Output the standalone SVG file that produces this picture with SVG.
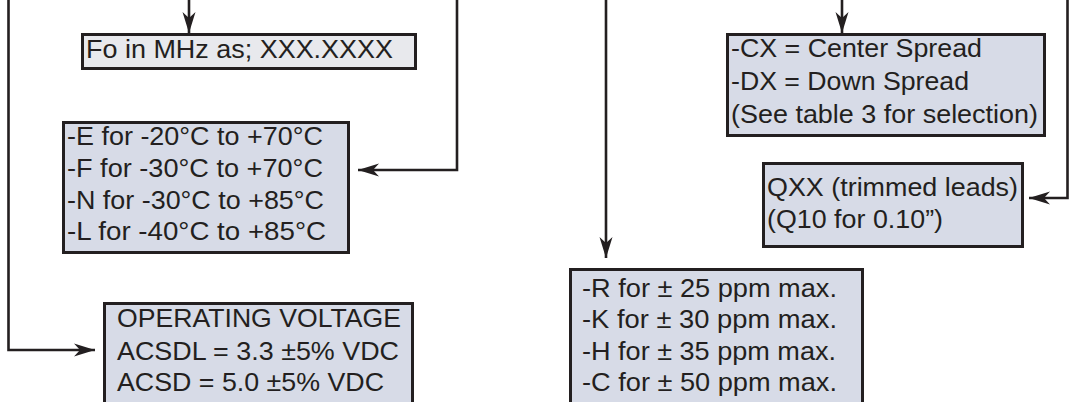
<svg xmlns="http://www.w3.org/2000/svg" width="1070" height="402" viewBox="0 0 1070 402">
<defs>
<marker id="ah" markerUnits="userSpaceOnUse" markerWidth="24" markerHeight="16" viewBox="-22 -8 24 16" refX="0" refY="0" orient="auto">
<path d="M0,0 L-21,-6.5 L-15,0 L-21,6.5 Z" fill="#231f20"/>
</marker>
</defs>
<style>
.box{stroke:#231f20;stroke-width:3}
.blue{fill:#d7dbe7}
.gray{fill:#e8e9ed}
.t{font-family:"Liberation Sans",Arial,sans-serif;font-size:25px;fill:#231f20;lengthAdjust:spacingAndGlyphs}
.c{fill:none;stroke:#231f20;stroke-width:2.6}
</style>
<rect width="1070" height="402" fill="#ffffff"/>
<g id="connectors">
<path class="c" d="M189,0 V33" marker-end="url(#ah)"/>
<path class="c" d="M457,0 V170 H358" marker-end="url(#ah)"/>
<path class="c" d="M8.5,0 V350 H95" marker-end="url(#ah)"/>
<path class="c" d="M842,0 V33" marker-end="url(#ah)"/>
<path class="c" d="M1067.5,0 V198 H1029" marker-end="url(#ah)"/>
<path class="c" d="M606,0 V258" marker-end="url(#ah)"/>
</g>
<g id="freq">
<rect class="box gray" x="82.5" y="34.5" width="333" height="34"/>
<text class="t" x="86" y="58" textLength="307" lengthAdjust="spacingAndGlyphs">Fo in MHz as; XXX.XXXX</text>
</g>
<g id="temp">
<rect class="box blue" x="63.5" y="122.5" width="285" height="130"/>
<text class="t" x="67" y="145" textLength="256" lengthAdjust="spacingAndGlyphs">-E for -20°C to +70°C</text>
<text class="t" x="67" y="177" textLength="256" lengthAdjust="spacingAndGlyphs">-F for -30°C to +70°C</text>
<text class="t" x="67" y="209" textLength="257" lengthAdjust="spacingAndGlyphs">-N for -30°C to +85°C</text>
<text class="t" x="67" y="240" textLength="259" lengthAdjust="spacingAndGlyphs">-L for -40°C to +85°C</text>
</g>
<g id="voltage">
<rect class="box blue" x="104.5" y="303.5" width="308" height="110"/>
<text class="t" x="117" y="327" textLength="284" lengthAdjust="spacingAndGlyphs">OPERATING VOLTAGE</text>
<text class="t" x="117" y="360" textLength="282" lengthAdjust="spacingAndGlyphs">ACSDL = 3.3 ±5% VDC</text>
<text class="t" x="117" y="391" textLength="267" lengthAdjust="spacingAndGlyphs">ACSD = 5.0 ±5% VDC</text>
</g>
<g id="spread">
<rect class="box blue" x="727.5" y="34.5" width="317" height="101"/>
<text class="t" x="731" y="57" textLength="251" lengthAdjust="spacingAndGlyphs">-CX = Center Spread</text>
<text class="t" x="731" y="90" textLength="238" lengthAdjust="spacingAndGlyphs">-DX = Down Spread</text>
<text class="t" x="731" y="123" textLength="307" lengthAdjust="spacingAndGlyphs">(See table 3 for selection)</text>
</g>
<g id="leads">
<rect class="box blue" x="763.5" y="163.5" width="259" height="83"/>
<text class="t" x="767" y="196" textLength="251" lengthAdjust="spacingAndGlyphs">QXX (trimmed leads)</text>
<text class="t" x="767" y="228" textLength="176" lengthAdjust="spacingAndGlyphs">(Q10 for 0.10”)</text>
</g>
<g id="tolerance">
<rect class="box blue" x="570.5" y="269.5" width="292" height="140"/>
<text class="t" x="582" y="297" textLength="255" lengthAdjust="spacingAndGlyphs">-R for ± 25 ppm max.</text>
<text class="t" x="582" y="328" textLength="255" lengthAdjust="spacingAndGlyphs">-K for ± 30 ppm max.</text>
<text class="t" x="582" y="360" textLength="254" lengthAdjust="spacingAndGlyphs">-H for ± 35 ppm max.</text>
<text class="t" x="582" y="391" textLength="255" lengthAdjust="spacingAndGlyphs">-C for ± 50 ppm max.</text>
</g>
</svg>
